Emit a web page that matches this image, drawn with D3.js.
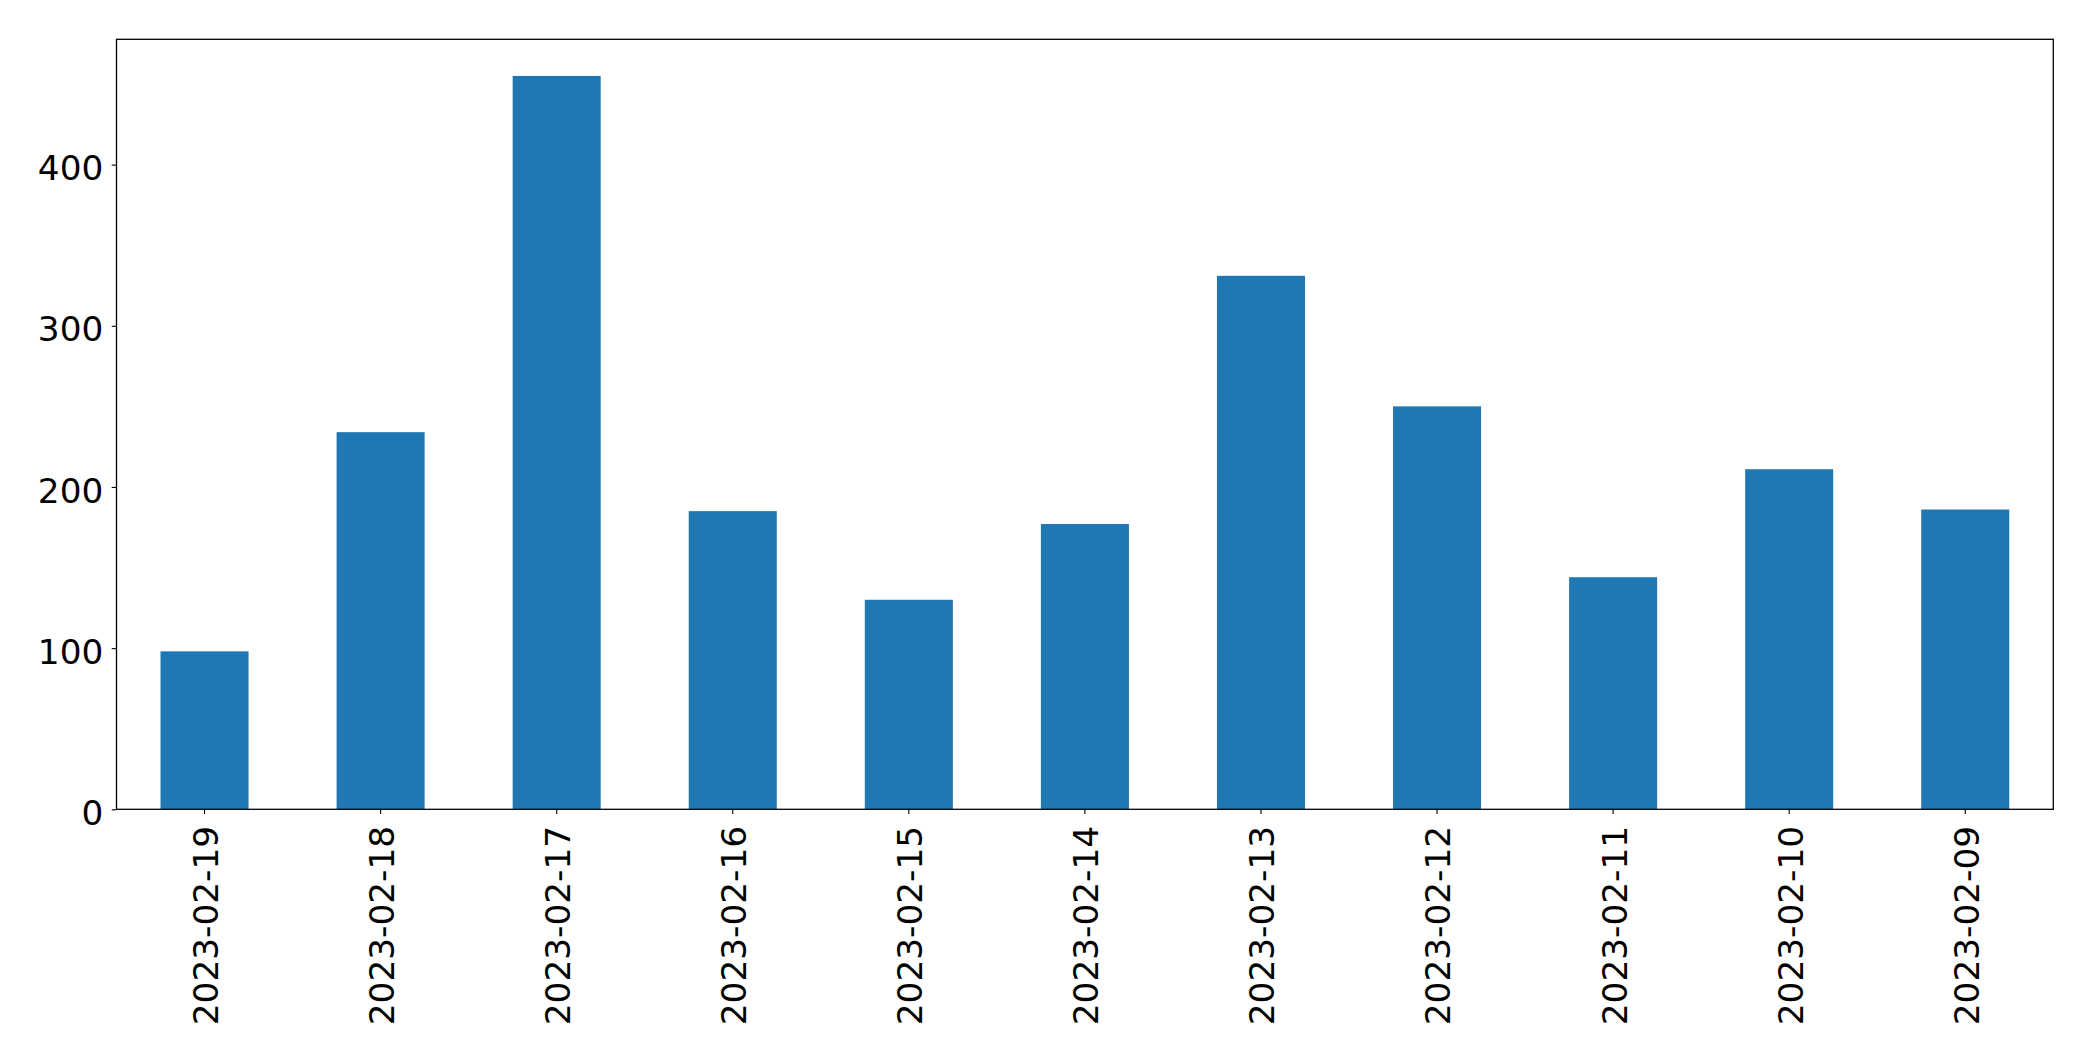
<!DOCTYPE html>
<html>
<head>
<meta charset="utf-8">
<script src="https://cdn.jsdelivr.net/npm/d3@7"></script>
<style>
  body { margin: 0; background: #fff; }
  svg text { font-family: "DejaVu Sans", sans-serif; fill: #000; }
</style>
</head>
<body>
<div class="chart"></div>
<script>
var dates = ["2023-02-19", "2023-02-18", "2023-02-17", "2023-02-16", "2023-02-15", "2023-02-14",
             "2023-02-13", "2023-02-12", "2023-02-11", "2023-02-10", "2023-02-09"];
var counts = [98, 234, 455, 185, 130, 177, 331, 250, 144, 211, 186];
var yTicks = [0, 100, 200, 300, 400];

var w = 2093;
var h = 1061;
var margin = {top: 39.3, right: 2093 - 2053.3, bottom: 1061 - 809.3, left: 116.5};
var innerW = w - margin.left - margin.right;
var innerH = h - margin.top - margin.bottom;
var fontSize = 34.3;

var svg = d3.select(".chart")
            .append("svg")
            .attr("width", w)
            .attr("height", h);

var g = svg.append("g")
           .attr("transform", "translate(" + margin.left + "," + margin.top + ")");

// scales: one band per date, bars half the band
var xScale = d3.scaleBand()
    .domain(dates)
    .range([0, innerW])
    .paddingInner(0.5)
    .paddingOuter(0.25);

var yScale = d3.scaleLinear()
    .domain([0, d3.max(counts) * 1.05])
    .range([innerH, 0]);

// bars
g.selectAll("rect.bar")
   .data(dates)
   .enter()
   .append("rect")
   .attr("class", "bar")
   .attr("x", (d) => xScale(d))
   .attr("y", (d, i) => yScale(counts[i]))
   .attr("width", xScale.bandwidth())
   .attr("height", (d, i) => innerH - yScale(counts[i]))
   .attr("fill", "#1f77b4");

// y axis
var yAxis = g.append("g")
   .call(d3.axisLeft(yScale).tickValues(yTicks).tickSize(4.8).tickPadding(8.4));
yAxis.select(".domain").remove();
yAxis.selectAll("text")
   .attr("font-size", fontSize)
   .attr("dy", "0.44em");

// x axis
var xAxis = g.append("g")
   .attr("transform", "translate(0," + innerH + ")")
   .call(d3.axisBottom(xScale).tickSize(4.8).tickSizeOuter(0));
xAxis.select(".domain").remove();
xAxis.selectAll("text")
   .attr("font-size", fontSize)
   .attr("text-anchor", "end")
   .attr("y", 0)
   .attr("x", 0)
   .attr("dy", "0.39em")
   .attr("transform", "translate(0,16.6) rotate(-90)");

g.selectAll(".tick line").attr("stroke", "#000").attr("stroke-width", 1.1);

// frame
g.append("rect")
   .attr("x", 0)
   .attr("y", 0)
   .attr("width", innerW)
   .attr("height", innerH)
   .attr("fill", "none")
   .attr("stroke", "#000")
   .attr("stroke-width", 1.3);
</script>
</body>
</html>
